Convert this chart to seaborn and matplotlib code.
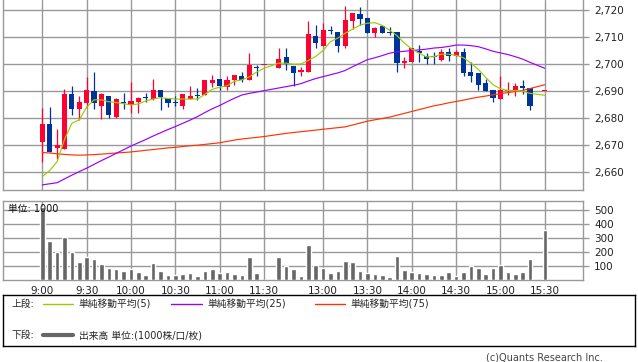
import numpy as np
import pandas as pd
import matplotlib
matplotlib.use("Agg")
import matplotlib.pyplot as plt
import seaborn as sns
from matplotlib.ticker import FuncFormatter, FixedLocator

sns.set_style("white")
plt.rcParams["font.family"] = ["DejaVu Sans", "Noto Sans CJK JP"]

# ---------------- data ----------------
am_slots = [f"{h}:{m:02d}" for h in (9, 10, 11) for m in range(0, 60, 5) if (h, m) <= (11, 30)]
pm_slots = [f"{h}:{m:02d}" for h in (12, 13, 14, 15) for m in range(0, 60, 5) if (12, 30) <= (h, m) <= (15, 30)]
slots = am_slots + [""] + pm_slots          # "" = lunch break spacer
tick_labels = ["9:00", "9:30", "10:00", "10:30", "11:00", "11:30",
               "13:00", "13:30", "14:00", "14:30", "15:00", "15:30"]

N = None
opens = [2671.2, 2677.7, 2669.0, 2668.5, 2689.0, 2683.4, 2685.6, 2689.8, 2684.4, 2688.3,
         2680.4, 2685.8, 2684.9, 2685.9, 2687.4, 2687.1, 2690.2, 2687.5, 2685.7, 2684.4,
         2687.1, 2688.4, 2688.4, 2692.9, 2694.4, 2691.4, 2694.1, 2695.6, 2694.1, 2698.8,
         2699.6, N, 2698.4, 2702.5, 2699.4, 2697.0, 2697.2, 2710.4, 2706.8, 2712.4,
         2711.8, 2706.8, 2716.1, 2718.5, 2716.9, 2711.4, 2714.1, 2711.5, 2711.9, 2700.3,
         2700.9, 2704.8, 2702.8, 2702.9, 2701.5, 2704.4, 2702.8, 2704.6, 2697.2, 2696.6,
         2692.9, 2690.4, 2687.1, 2690.1, 2690.2, 2691.9, 2691.1, N, 2690.1]
highs = [2683.6, 2684.2, 2675.8, 2690.6, 2691.8, 2688.3, 2695.2, 2696.9, 2689.3, 2688.3,
         2687.4, 2689.3, 2693.5, 2687.6, 2689.2, 2694.6, 2690.2, 2687.5, 2688.3, 2688.8,
         2691.9, 2691.1, 2694.1, 2696.0, 2694.4, 2695.6, 2696.0, 2697.2, 2704.2, 2699.7,
         2699.6, N, 2706.1, 2706.1, 2699.4, 2698.7, 2715.8, 2714.5, 2715.3, 2714.1,
         2711.8, 2721.5, 2718.8, 2721.2, 2716.9, 2713.8, 2714.1, 2713.8, 2711.9, 2702.7,
         2706.1, 2707.1, 2704.0, 2704.6, 2705.5, 2706.1, 2705.2, 2706.1, 2700.9, 2696.6,
         2694.4, 2690.4, 2695.6, 2693.5, 2692.9, 2694.1, 2691.1, N, 2690.1]
lows = [2663.8, 2667.2, 2664.8, 2668.5, 2681.0, 2679.1, 2684.2, 2683.4, 2679.5, 2679.8,
        2680.0, 2683.2, 2682.0, 2681.7, 2685.9, 2686.5, 2682.9, 2684.2, 2684.4, 2683.2,
        2687.1, 2686.7, 2688.4, 2691.4, 2690.4, 2690.2, 2692.3, 2693.2, 2694.1, 2695.6,
        2699.6, N, 2698.4, 2697.8, 2691.9, 2695.4, 2697.2, 2705.8, 2706.8, 2711.0,
        2704.6, 2705.8, 2712.9, 2714.5, 2711.4, 2710.1, 2711.4, 2710.8, 2697.2, 2698.4,
        2700.9, 2700.9, 2700.0, 2700.0, 2701.2, 2701.2, 2702.8, 2695.6, 2693.2, 2690.2,
        2689.8, 2685.8, 2687.1, 2688.6, 2688.2, 2689.0, 2682.8, N, 2690.1]
closes = [2677.7, 2667.5, 2669.9, 2689.0, 2683.4, 2685.9, 2690.2, 2685.6, 2688.7, 2681.0,
          2687.1, 2685.5, 2686.1, 2687.4, 2687.3, 2690.2, 2687.7, 2685.4, 2685.6, 2688.8,
          2688.1, 2688.2, 2694.1, 2694.1, 2691.7, 2694.1, 2696.0, 2694.1, 2699.7, 2698.6,
          2699.6, N, 2701.8, 2700.0, 2696.8, 2697.6, 2711.1, 2707.9, 2712.6, 2712.2,
          2706.8, 2716.3, 2718.8, 2716.7, 2711.4, 2713.2, 2711.4, 2711.3, 2700.3, 2701.1,
          2705.8, 2704.0, 2701.8, 2702.7, 2704.4, 2702.8, 2704.6, 2696.8, 2695.6, 2692.3,
          2689.8, 2687.4, 2690.2, 2690.3, 2691.9, 2691.2, 2684.5, N, 2690.1]
ma5 = [2658.3, 2660.5, 2663.8, 2672.0, 2678.0, 2679.3, 2684.0, 2686.7, 2686.7, 2686.0,
       2685.7, 2685.3, 2684.8, 2685.2, 2686.3, 2687.0, 2687.5, 2687.2, 2687.0, 2687.0,
       2687.0, 2687.0, 2688.8, 2690.6, 2691.4, 2691.9, 2693.6, 2694.1, 2695.2, 2697.0,
       2698.4, N, 2700.3, 2700.3, 2699.9, 2700.0, 2701.3, 2702.8, 2705.0, 2708.3,
       2709.6, 2711.4, 2712.9, 2714.4, 2715.1, 2715.3, 2714.3, 2712.5, 2710.5, 2707.7,
       2705.5, 2704.0, 2702.6, 2702.7, 2703.6, 2703.6, 2703.2, 2702.3, 2700.3, 2698.0,
       2695.0, 2692.3, 2690.8, 2690.2, 2690.1, 2689.9, 2689.1, N, 2688.4]
ma25 = [2655.2, 2655.6, 2656.0, 2657.4, 2658.8, 2660.1, 2661.4, 2662.8, 2664.2, 2665.5,
        2666.9, 2668.2, 2669.6, 2670.8, 2672.0, 2673.3, 2674.5, 2675.7, 2676.8, 2678.0,
        2679.2, 2680.5, 2682.0, 2683.4, 2684.6, 2686.0, 2687.3, 2688.5, 2689.1, 2689.6,
        2690.1, N, 2691.1, 2691.6, 2692.1, 2692.7, 2693.7, 2694.6, 2695.3, 2696.0,
        2696.7, 2697.6, 2699.0, 2700.3, 2701.6, 2702.3, 2703.1, 2704.0, 2704.5, 2704.7,
        2705.0, 2705.2, 2705.5, 2705.9, 2706.1, 2706.5, 2707.0, 2707.0, 2706.8, 2706.4,
        2705.6, 2704.7, 2704.1, 2703.5, 2702.7, 2701.8, 2700.6, N, 2698.4]
ma75 = [2667.2, 2667.0, 2666.7, 2666.5, 2666.3, 2666.2, 2666.3, 2666.4, 2666.6, 2666.8,
        2667.0, 2667.2, 2667.4, 2667.7, 2668.0, 2668.3, 2668.6, 2668.9, 2669.1, 2669.4,
        2669.7, 2669.9, 2670.2, 2670.5, 2670.8, 2671.3, 2671.8, 2672.2, 2672.5, 2672.8,
        2673.1, N, 2673.9, 2674.3, 2674.6, 2674.9, 2675.2, 2675.5, 2675.8, 2676.1,
        2676.4, 2676.7, 2677.4, 2678.1, 2678.8, 2679.3, 2679.8, 2680.3, 2681.0, 2681.7,
        2682.4, 2683.1, 2683.8, 2684.5, 2685.0, 2685.6, 2686.1, 2686.6, 2687.2, 2687.7,
        2688.1, 2688.6, 2689.0, 2689.4, 2689.8, 2690.2, 2690.9, N, 2692.3]
volume = [520, 282, 202, 311, 202, 130, 166, 152, 116, 87,
          80, 65, 80, 58, 36, 123, 65, 36, 36, 43,
          51, 29, 65, 80, 51, 58, 43, 36, 166, 51,
          0, N, 166, 101, 80, 29, 248, 108, 87, 51,
          65, 137, 130, 65, 51, 43, 36, 22, 173, 72,
          58, 51, 43, 36, 36, 58, 29, 58, 101, 87,
          43, 87, 108, 58, 43, 58, 152, N, 361]

df = pd.DataFrame({"slot": slots, "open": opens, "high": highs, "low": lows,
                   "close": closes, "ma5": ma5, "ma25": ma25, "ma75": ma75,
                   "volume": volume}).astype({c: float for c in
                   ["open", "high", "low", "close", "ma5", "ma25", "ma75", "volume"]})
df["x"] = np.arange(len(df))
tick_pos = [slots.index(t) for t in tick_labels]

# ---------------- styling ----------------
UP = "#ff0033"
DOWN = "#003399"
GRID = "#999999"
W, H = 638, 362
XL = (-5.32, 73.17)

fig = plt.figure(figsize=(W / 100, H / 100), dpi=100)
ax = fig.add_axes([3 / W, 1 - 190 / H, 580 / W, 190 / H])
axv = fig.add_axes([3 / W, 1 - 280 / H, 580 / W, 79 / H])
axl = fig.add_axes([3 / W, 1 - 346 / H, 632 / W, 51 / H])

# ---- price panel ----
c = df.dropna(subset=["open"])
up = c["close"] >= c["open"]
cols = np.where(up, UP, DOWN)
ax.vlines(c["x"], c["low"], c["high"], colors=cols, lw=0.9, zorder=3)
body_h = np.maximum((c["close"] - c["open"]).abs(), 0.4)
body_b = np.minimum(c["open"], c["close"])
ax.bar(c["x"], body_h, bottom=body_b, width=0.7, color=cols, lw=0, zorder=4)

for col, color in [("ma75", "#ff3300"), ("ma25", "#9900ff"), ("ma5", "#99cc00")]:
    d = df.dropna(subset=[col])
    sns.lineplot(x=d["x"].values, y=d[col].values, color=color, lw=0.85, ax=ax,
                 zorder=5, estimator=None)

ax.set_xlim(*XL)
ax.set_ylim(2653.3, 2723.7)
ax.yaxis.set_major_locator(FixedLocator([2660, 2670, 2680, 2690, 2700, 2710, 2720]))
ax.yaxis.set_major_formatter(FuncFormatter(lambda v, p: f"{int(round(v)):,}"))
ax.xaxis.set_major_locator(FixedLocator(tick_pos))
ax.yaxis.tick_right()
ax.tick_params(axis="y", which="both", right=True, length=4, width=1, color=GRID,
               labelsize=7.5, pad=4, labelcolor="#222222")
ax.tick_params(axis="x", bottom=False, labelbottom=False)
ax.grid(True, color=GRID, lw=1.0)
ax.set_axisbelow(True)
for s in ["left", "bottom", "right"]:
    ax.spines[s].set_color(GRID)
    ax.spines[s].set_linewidth(1.0)
ax.spines["top"].set_visible(False)
ax.set_xlabel("")
ax.set_ylabel("")

# ---- volume panel ----
v = df.dropna(subset=["volume"])
sns.barplot(x=v["x"].values, y=v["volume"].values, native_scale=True, color="#666666",
            saturation=1, width=0.62, errorbar=None, ax=axv, zorder=3)
axv.set_xlim(*XL)
axv.set_ylim(0, 566)
axv.yaxis.set_major_locator(FixedLocator([100, 200, 300, 400, 500]))
axv.xaxis.set_major_locator(FixedLocator(tick_pos))
axv.set_xticklabels(tick_labels)
axv.yaxis.tick_right()
axv.tick_params(axis="y", right=True, length=4, width=1, color=GRID, labelsize=7.5,
                pad=4, labelcolor="#222222")
axv.tick_params(axis="x", bottom=False, labelsize=7.5, pad=1, labelcolor="#222222")
axv.grid(True, color=GRID, lw=1.0)
axv.set_axisbelow(True)
for s in axv.spines.values():
    s.set_color(GRID)
    s.set_linewidth(1.0)
axv.set_xlabel("")
axv.set_ylabel("")
axv.text(5 / 580, (79 - 8) / 79, "単位: 1000", transform=axv.transAxes, fontsize=7,
         ha="left", va="center", color="#111111", zorder=6)

# ---- legend box ----
axl.set_xlim(0, 632)
axl.set_ylim(51, 0)
axl.set_xticks([])
axl.set_yticks([])
for s in axl.spines.values():
    s.set_color("black")
    s.set_linewidth(1.0)
r1, r2 = 304 - 295, 335 - 295
fs = 7
axl.text(9, r1, "上段:", fontsize=fs, va="center", ha="left")
axl.plot([40, 70], [r1, r1], color="#99cc00", lw=1)
axl.text(75, r1, "単純移動平均(5)", fontsize=fs, va="center", ha="left")
axl.plot([168, 199], [r1, r1], color="#9900ff", lw=1)
axl.text(204, r1, "単純移動平均(25)", fontsize=fs, va="center", ha="left")
axl.plot([312, 342], [r1, r1], color="#ff3300", lw=1)
axl.text(347, r1, "単純移動平均(75)", fontsize=fs, va="center", ha="left")
axl.text(9, r2, "下段:", fontsize=fs, va="center", ha="left")
axl.plot([40, 70], [r2, r2], color="#666666", lw=3)
axl.text(76, r2, "出来高 単位:(1000株/口/枚)", fontsize=fs, va="center", ha="left")

fig.text(603 / W, 1 - 358 / H, "(c)Quants Research Inc.", fontsize=7, ha="right",
         va="center", color="#444444")

fig.savefig("out.png", dpi=100)
